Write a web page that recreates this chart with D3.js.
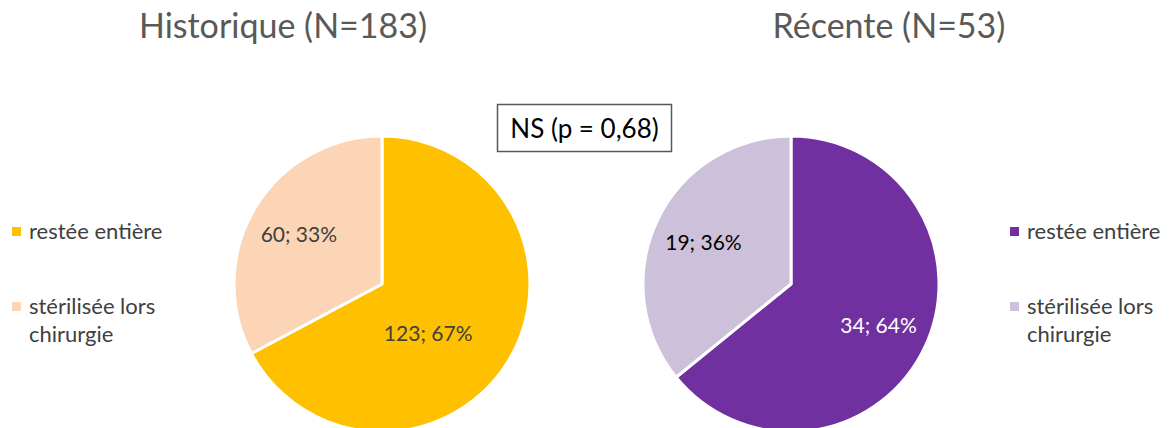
<!DOCTYPE html>
<head>
  <meta charset="utf-8">
  <script src="https://d3js.org/d3.v7.min.js"></script>
  <style>
    body { margin: 0; background: #fff; }
    text { font-family: Lato, "Open Sans", sans-serif; }
  </style>
</head>
<body>
  <svg width="1171" height="428"></svg>
  <script>
  // data
  var categories = ['restée entière', 'stérilisée lors chirurgie'];
  var titles = ['Historique (N=183)', 'Récente (N=53)'];
  var histValues = [123, 60];
  var recValues = [34, 19];
  var histPct = [67, 33];
  var recPct = [64, 36];
  var testLabel = 'NS (p = 0,68)';

  var svg = d3.select('svg');
  var radius = 148;

  var charts = [
    { title: titles[0], values: histValues, pct: histPct, cx: 382, cy: 284, titleX: 283,
      colors: ['#FFC000', '#FBD5B5'], textColors: ['#404040', '#404040'],
      legendX: 12, nudge: [[-37, 0], [0, 0]] },
    { title: titles[1], values: recValues, pct: recPct, cx: 791, cy: 284, titleX: 889,
      colors: ['#7030A0', '#CCC0DA'], textColors: ['#ffffff', '#000000'],
      legendX: 1010, nudge: [[0, 0], [0, 0]] }
  ];

  var pie = d3.pie().sort(null).value(function(d) { return d; });
  var arc = d3.arc().innerRadius(0).outerRadius(radius);
  var labelArc = d3.arc().innerRadius(97).outerRadius(97);

  charts.forEach(function(c) {
    // title
    svg.append('text')
      .attr('x', c.titleX)
      .attr('y', 38)
      .attr('text-anchor', 'middle')
      .attr('font-size', 34)
      .attr('fill', '#595959')
      .text(c.title);

    var g = svg.append('g')
      .attr('transform', 'translate(' + c.cx + ',' + c.cy + ')');

    var slices = pie(c.values);

    g.selectAll('path')
      .data(slices)
      .enter().append('path')
      .attr('d', arc)
      .attr('fill', function(d, i) { return c.colors[i]; })
      .attr('stroke', '#fff')
      .attr('stroke-width', 3)
      .attr('stroke-linejoin', 'round');

    g.selectAll('text.lbl')
      .data(slices)
      .enter().append('text')
      .attr('class', 'lbl')
      .attr('transform', function(d, i) {
        var p = labelArc.centroid(d);
        return 'translate(' + (p[0] + c.nudge[i][0]) + ',' + (p[1] + c.nudge[i][1]) + ')';
      })
      .attr('dy', '0.36em')
      .attr('text-anchor', 'middle')
      .attr('font-size', 21)
      .attr('fill', function(d, i) { return c.textColors[i]; })
      .text(function(d, i) { return d.data + '; ' + c.pct[i] + '%'; });

    // legend
    var leg = svg.append('g').attr('transform', 'translate(' + c.legendX + ',0)');
    var legY = [232, 307];
    categories.forEach(function(name, i) {
      leg.append('rect')
        .attr('x', 0)
        .attr('y', legY[i] - 5)
        .attr('width', 9)
        .attr('height', 9)
        .attr('fill', c.colors[i]);
      var words = i === 0 ? [name] : ['stérilisée lors', 'chirurgie'];
      words.forEach(function(w, j) {
        leg.append('text')
          .attr('x', 17)
          .attr('y', legY[i] + 7 + j * 28)
          .attr('font-size', 22)
          .attr('fill', '#404040')
          .text(w);
      });
    });
  });

  // significance box
  var box = svg.append('g');
  box.append('rect')
    .attr('x', 497.5)
    .attr('y', 104.5)
    .attr('width', 174)
    .attr('height', 47)
    .attr('fill', '#fff')
    .attr('stroke', '#595959')
    .attr('stroke-width', 1.5);
  box.append('text')
    .attr('x', 584.5)
    .attr('y', 138)
    .attr('text-anchor', 'middle')
    .attr('font-size', 26)
    .attr('fill', '#000')
    .text(testLabel);
  </script>
</body>
